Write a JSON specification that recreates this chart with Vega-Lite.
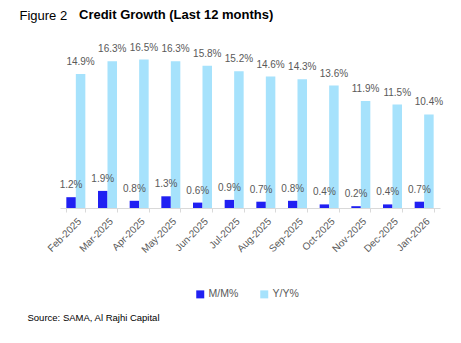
{
  "$schema": "https://vega.github.io/schema/vega-lite/v6.json",
  "autosize": {"type": "none"},
  "width": 380,
  "height": 162,
  "padding": {"left": 60, "top": 46, "right": 21, "bottom": 135},
  "background": "white",
  "config": {"view": {"stroke": null}, "font": "Liberation Sans"},
  "title": {
    "text": "Credit Growth (Last 12 months)",
    "anchor": "start",
    "frame": "group",
    "font": "Liberation Sans",
    "fontSize": 13,
    "fontWeight": "bold",
    "color": "#000000",
    "dx": 19,
    "offset": -13
  },
  "data": {
    "values": [
      {"month": "Feb-2025", "series": "M/M%", "value": 1.2, "label": "1.2%"},
      {"month": "Mar-2025", "series": "M/M%", "value": 1.9, "label": "1.9%"},
      {"month": "Apr-2025", "series": "M/M%", "value": 0.8, "label": "0.8%"},
      {"month": "May-2025", "series": "M/M%", "value": 1.3, "label": "1.3%"},
      {"month": "Jun-2025", "series": "M/M%", "value": 0.6, "label": "0.6%"},
      {"month": "Jul-2025", "series": "M/M%", "value": 0.9, "label": "0.9%"},
      {"month": "Aug-2025", "series": "M/M%", "value": 0.7, "label": "0.7%"},
      {"month": "Sep-2025", "series": "M/M%", "value": 0.8, "label": "0.8%"},
      {"month": "Oct-2025", "series": "M/M%", "value": 0.4, "label": "0.4%"},
      {"month": "Nov-2025", "series": "M/M%", "value": 0.2, "label": "0.2%"},
      {"month": "Dec-2025", "series": "M/M%", "value": 0.4, "label": "0.4%"},
      {"month": "Jan-2026", "series": "M/M%", "value": 0.7, "label": "0.7%"},
      {"month": "Feb-2025", "series": "Y/Y%", "value": 14.9, "label": "14.9%"},
      {"month": "Mar-2025", "series": "Y/Y%", "value": 16.3, "label": "16.3%"},
      {"month": "Apr-2025", "series": "Y/Y%", "value": 16.5, "label": "16.5%"},
      {"month": "May-2025", "series": "Y/Y%", "value": 16.3, "label": "16.3%"},
      {"month": "Jun-2025", "series": "Y/Y%", "value": 15.8, "label": "15.8%"},
      {"month": "Jul-2025", "series": "Y/Y%", "value": 15.2, "label": "15.2%"},
      {"month": "Aug-2025", "series": "Y/Y%", "value": 14.6, "label": "14.6%"},
      {"month": "Sep-2025", "series": "Y/Y%", "value": 14.3, "label": "14.3%"},
      {"month": "Oct-2025", "series": "Y/Y%", "value": 13.6, "label": "13.6%"},
      {"month": "Nov-2025", "series": "Y/Y%", "value": 11.9, "label": "11.9%"},
      {"month": "Dec-2025", "series": "Y/Y%", "value": 11.5, "label": "11.5%"},
      {"month": "Jan-2026", "series": "Y/Y%", "value": 10.4, "label": "10.4%"}
    ]
  },
  "encoding": {
    "x": {
      "field": "month",
      "type": "nominal",
      "sort": null,
      "scale": {"paddingInner": 0.4, "paddingOuter": 0.2},
      "axis": {
        "labelAngle": -45,
        "labelFontSize": 10,
        "labelColor": "#595959",
        "labelPadding": 4,
        "domainColor": "#d9d9d9",
        "tickColor": "#d9d9d9",
        "tickSize": 4,
        "tickBand": "extent",
        "title": "Source: SAMA, Al Rajhi Capital",
        "titleFont": "Liberation Sans",
        "titleFontSize": 9.5,
        "titleFontWeight": "normal",
        "titleColor": "#000000",
        "titleAnchor": "start",
        "titleAlign": "left",
        "titleBaseline": "alphabetic",
        "titleX": -33,
        "titleY": 112
      }
    },
    "xOffset": {"field": "series", "type": "nominal"},
    "y": {
      "field": "value",
      "type": "quantitative",
      "scale": {"domain": [0, 18]},
      "axis": {
        "title": "Figure 2",
        "titleAngle": 0,
        "titleX": -41,
        "titleY": -27,
        "titleAlign": "left",
        "titleBaseline": "alphabetic",
        "titleFont": "Liberation Sans",
        "titleFontSize": 13,
        "titleFontWeight": "normal",
        "titleColor": "#000000",
        "labels": false,
        "ticks": false,
        "domain": false,
        "grid": false
      }
    }
  },
  "layer": [
    {
      "mark": {"type": "bar"},
      "encoding": {
        "color": {
          "field": "series",
          "type": "nominal",
          "scale": {"domain": ["M/M%", "Y/Y%"], "range": ["#2020f2", "#a6e2fc"]},
          "legend": {
            "orient": "none",
            "legendX": 135,
            "legendY": 243,
            "direction": "horizontal",
            "title": null,
            "symbolType": "square",
            "symbolSize": 64,
            "symbolStrokeWidth": 0,
            "labelFontSize": 10.5,
            "labelColor": "#595959",
            "labelOffset": 3,
            "columnPadding": 20
          }
        }
      }
    },
    {
      "mark": {"type": "text", "baseline": "alphabetic", "dy": -9, "fontSize": 10, "color": "#595959"},
      "encoding": {
        "text": {"field": "label", "type": "nominal"},
        "detail": {"field": "series"}
      }
    }
  ]
}
